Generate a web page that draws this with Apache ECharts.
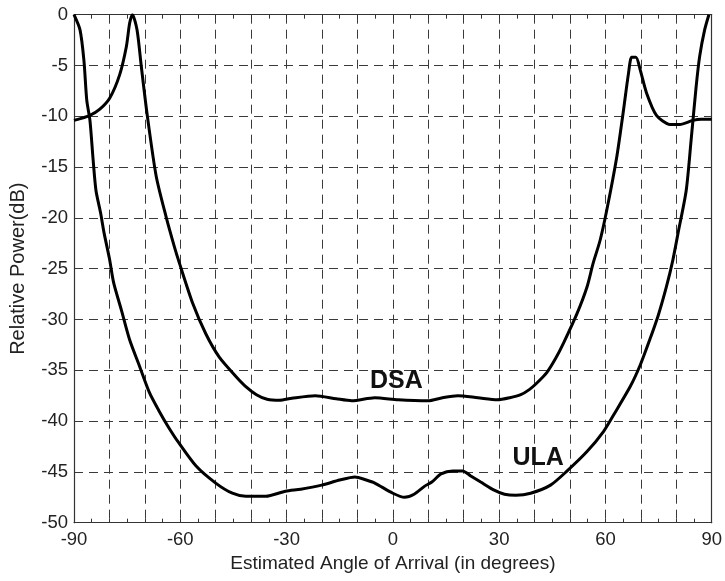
<!DOCTYPE html>
<html>
<head>
<meta charset="utf-8">
<script src="https://cdn.jsdelivr.net/npm/echarts@6/dist/echarts.min.js"></script>
<style>
html,body{margin:0;padding:0;background:#fff;}
#chart{width:725px;height:581px;}
</style>
</head>
<body>
<div id="chart"></div>
<script>
// ---- data ----
var ulaAngles = [-90,-88.3,-87.2,-86.4,-85.5,-84.6,-83.8,-82.5,-81.5,-80,-78.8,-76.6,-74.3,-71.5,-68.7,-66,-63.5,-60.7,-55.6,-50,-45.3,-41.5,-35.9,-30.3,-26,-20.1,-15,-10.7,-7.5,-5.1,0,3.3,6,9,11,13.6,16.9,19.7,22,24.8,28.6,31.5,34.7,38.9,44.5,49.2,54.8,59.5,62.3,67,69.8,72.5,74.9,77.2,79,80.5,82.8,84.2,85.6,86.6,88,89.2];
var ulaPower  = [0,-1.5,-4.5,-8.4,-10.4,-14.3,-17.3,-19.5,-21.5,-24,-26.4,-29.1,-32,-34.6,-37.2,-39.0,-40.5,-42.0,-44.4,-46.1,-47.1,-47.4,-47.4,-46.9,-46.7,-46.3,-45.8,-45.5,-45.8,-46.1,-47.1,-47.5,-47.2,-46.4,-46.0,-45.2,-44.9,-44.9,-45.4,-46,-46.8,-47.2,-47.3,-47.1,-46.3,-44.9,-43.0,-41.0,-39.4,-36.6,-34.5,-32,-29.6,-26.8,-24.2,-21.5,-17.3,-12.3,-7.1,-4.1,-1.5,0];
var dsaAngles = [-90,-85.5,-82.7,-79.9,-77.1,-75.2,-74.3,-73.5,-72.2,-71,-69.4,-66.8,-64,-61.7,-60.2,-56.5,-52.8,-49,-44.3,-41.5,-38.5,-35.5,-32,-28.5,-21.9,-16,-11.6,-5.1,1.5,9.9,14,18.3,24,29.5,33,36.1,38.5,40.5,43.5,46,48.2,52,54.8,56.5,58.5,60.4,63.2,65.1,66.5,67.4,68.6,69.8,71.6,74.4,78.2,81,84.7,87.1,90];
var dsaPower  = [-10.4,-9.9,-9.3,-8.2,-5.9,-3.1,-0.85,0,-1.5,-5.1,-9.7,-15.9,-19.9,-22.8,-24.5,-28.4,-31.4,-33.7,-35.6,-36.6,-37.4,-37.85,-37.95,-37.75,-37.5,-37.8,-38,-37.7,-37.9,-38,-37.7,-37.5,-37.7,-37.9,-37.7,-37.4,-36.9,-36.3,-35.2,-33.8,-32.3,-29.4,-26.8,-24.5,-22.2,-19.2,-14,-9.4,-5.8,-4.2,-4.2,-5.4,-7.7,-9.9,-10.8,-10.8,-10.4,-10.3,-10.3];
var xLabelTicks = [-90,-60,-30,0,30,60,90];
var curveNames = ['DSA','ULA'];
var labelPos = {DSA:[1,-36.1], ULA:[41,-43.6]};
var xTitle = 'Estimated Angle of Arrival (in degrees)';
var yTitle = 'Relative Power(dB)';

function zip(a,b){ return a.map(function(v,i){return [v,b[i]];}); }

var FONT = '"Liberation Sans", Arial, sans-serif';
var dash = [9,6];
var chart = echarts.init(document.getElementById('chart'), null, {renderer:'canvas'});

function xAx(pos, showLabels){
  return {
    type:'value', position:pos, min:-90, max:90, interval:10,
    name: showLabels ? xTitle : '', nameLocation:'middle', nameGap:31,
    nameTextStyle:{fontFamily:FONT, fontSize:19, color:'#222'},
    axisLine:{show:true, onZero:false, lineStyle:{color:'#333', width:1.2}},
    axisTick:{show:true, inside:true, length:4, lineStyle:{color:'#333'}},
    minorTick:{show:true, splitNumber:2, length:4, lineStyle:{color:'#333'}},
    axisLabel:{show:showLabels, margin:8, fontFamily:FONT, fontSize:18.5, color:'#222',
      formatter:function(v){ return xLabelTicks.indexOf(v)>=0 ? String(v) : ''; }},
    splitLine:{show: showLabels, lineStyle:{type:dash, color:'#3a3a3a', width:1}}
  };
}
function yAx(pos, showLabels){
  return {
    type:'value', position:pos, min:-50, max:0, interval:5,
    name: showLabels ? yTitle : '', nameLocation:'middle', nameGap:46,
    nameTextStyle:{fontFamily:FONT, fontSize:20, color:'#222'},
    axisLine:{show:true, onZero:false, lineStyle:{color:'#333', width:1.2}},
    axisTick:{show:false},
    axisLabel:{show:showLabels, margin:6, fontFamily:FONT, fontSize:18.5, color:'#222'},
    splitLine:{show: showLabels, lineStyle:{type:dash, color:'#3a3a3a', width:1}}
  };
}

function series(name, ang, pow){
  return {
    name:name, type:'line', data:zip(ang,pow), showSymbol:false, symbol:'none',
    smooth:0.25,
    lineStyle:{color:'#000', width:3}, clip:true, animation:false,
    markPoint:{symbol:'circle', symbolSize:0, animation:false,
      label:{show:true, position:'inside', formatter:name, fontFamily:FONT, fontWeight:'bold', fontSize:25, color:'#111'},
      data:[{coord:labelPos[name]}]}
  };
}

chart.setOption({
  animation:false,
  backgroundColor:'#fff',
  grid:{left:74, right:10, top:14.7, bottom:58.3, containLabel:false},
  xAxis:[xAx('bottom', true), xAx('top', false)],
  yAxis:[yAx('left', true), yAx('right', false)],
  series:[series(curveNames[0], dsaAngles, dsaPower), series(curveNames[1], ulaAngles, ulaPower)]
});
</script>
</body>
</html>
